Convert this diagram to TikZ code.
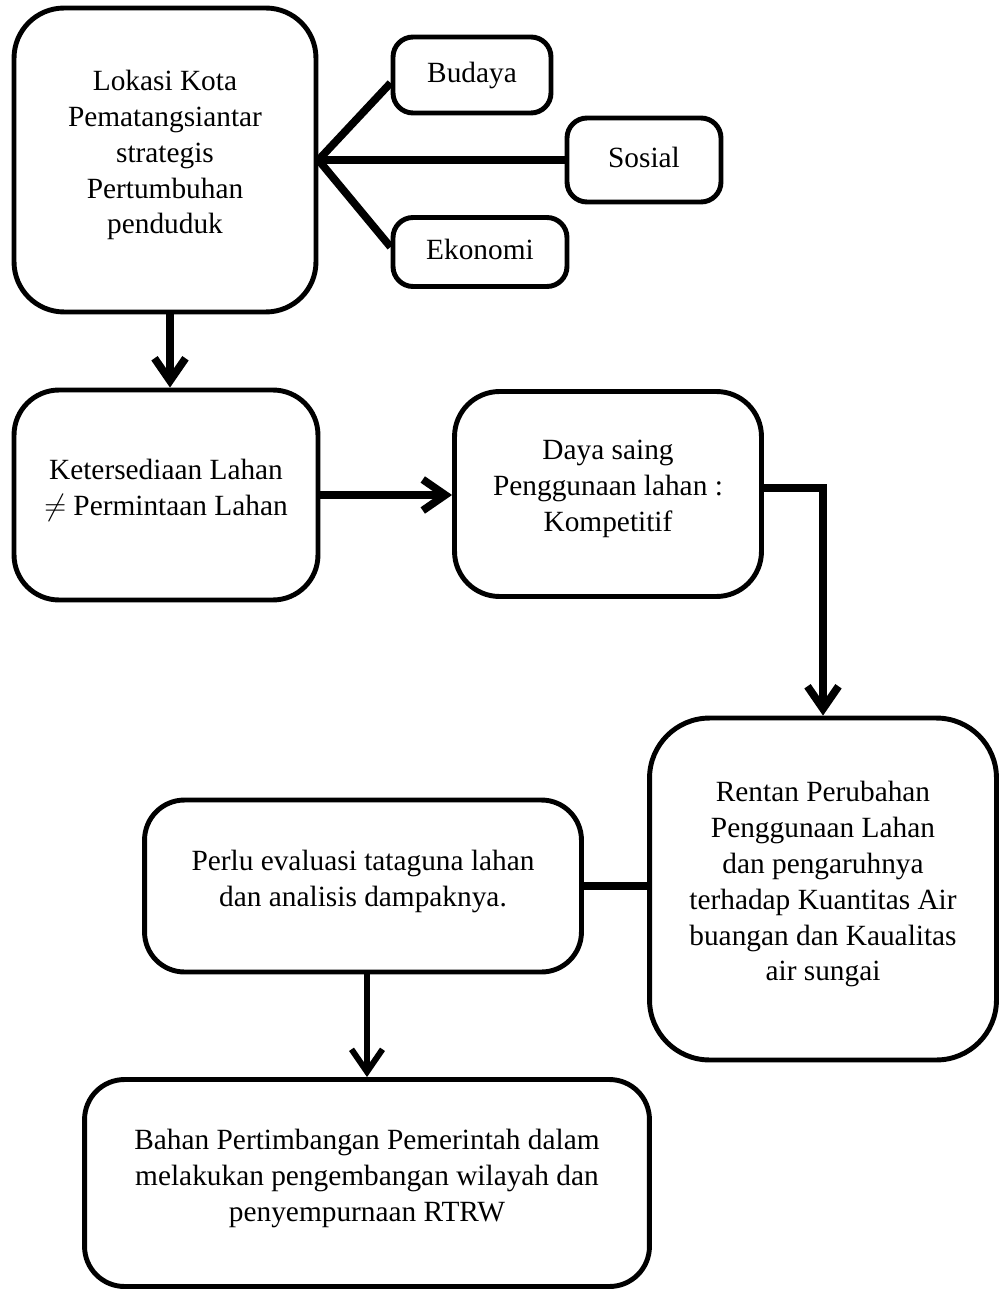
\documentclass[tikz,border=0pt]{standalone}
\usepackage{fontspec}
\setmainfont{Liberation Serif}
\usetikzlibrary{arrows.meta}

\begin{document}
\begin{tikzpicture}[
        x=0.02cm, y=-0.02cm,
        box/.style={
            rectangle,
            draw=black,
            fill=white,
            line width=2.8pt,
            rounded corners=0.8cm,
            align=center,
            inner sep=2pt,
            text depth=9pt,
            font=\fontsize{16.7pt}{20.4pt}\selectfont
        },
        smallbox/.style={
            box,
            text depth=3pt,
            rounded corners=0.4cm
        },
        link/.style={
            line width=4.4pt
        },
        flow/.style={
            link,
            -{Straight Barb[length=0.45cm,width=0.62cm]}
        }
    ]

    \useasboundingbox (0,0) rectangle (1000,1290);

    % Kotak utama
    \node[box, rounded corners=1cm, minimum width=6.04cm, minimum height=6.08cm]
        (lokasi) at (165,160) {Lokasi Kota\\Pematangsiantar\\strategis\\Pertumbuhan\\penduduk};

    \node[smallbox, minimum width=3.16cm, minimum height=1.52cm]
        (budaya) at (472,75) {Budaya};

    \node[smallbox, minimum width=3.08cm, minimum height=1.68cm]
        (sosial) at (644,160) {Sosial};

    \node[smallbox, minimum width=3.48cm, minimum height=1.38cm]
        (ekonomi) at (480,252) {Ekonomi};

    \node[box, rounded corners=0.9cm, minimum width=6.08cm, minimum height=4.2cm]
        (lahan) at (166,495) {Ketersediaan Lahan\\$\neq$ Permintaan Lahan};

    \node[box, rounded corners=0.9cm, minimum width=6.14cm, minimum height=4.1cm]
        (dayasaing) at (608,494) {Daya saing\\Penggunaan lahan :\\Kompetitif};

    \node[box, rounded corners=1.2cm, minimum width=6.94cm, minimum height=6.84cm]
        (rentan) at (823,889) {Rentan Perubahan\\Penggunaan Lahan\\dan pengaruhnya\\terhadap Kuantitas Air\\buangan dan Kaualitas\\air sungai};

    \node[box, minimum width=8.74cm, minimum height=3.44cm]
        (evaluasi) at (363,886) {Perlu evaluasi tataguna lahan\\dan analisis dampaknya.};

    \node[box, minimum width=11.3cm, minimum height=4.14cm]
        (bahan) at (367,1183) {Bahan Pertimbangan Pemerintah dalam\\melakukan pengembangan wilayah dan\\penyempurnaan RTRW};

    % Cabang aspek
    \draw[link] (lokasi.east) -- ([yshift=-0.16cm]budaya.west);
    \draw[link] (lokasi.east) -- (sosial.west);
    \draw[link] (lokasi.east) -- ([yshift=0.1cm]ekonomi.west);

    % Alur
    \draw[flow] ([xshift=0.1cm]lokasi.south) -- ([xshift=0.1cm]lokasi.south |- lahan.north);
    \draw[flow] (lahan.east) -- (lahan.east -| dayasaing.west);
    \draw[flow] ([yshift=0.12cm]dayasaing.east) -| (rentan.north);
    \draw[link] (rentan.west |- evaluasi.east) -- (evaluasi.east);
    \draw[flow, line width=3.4pt] (bahan.north |- evaluasi.south) -- (bahan.north);

\end{tikzpicture}
\end{document}
